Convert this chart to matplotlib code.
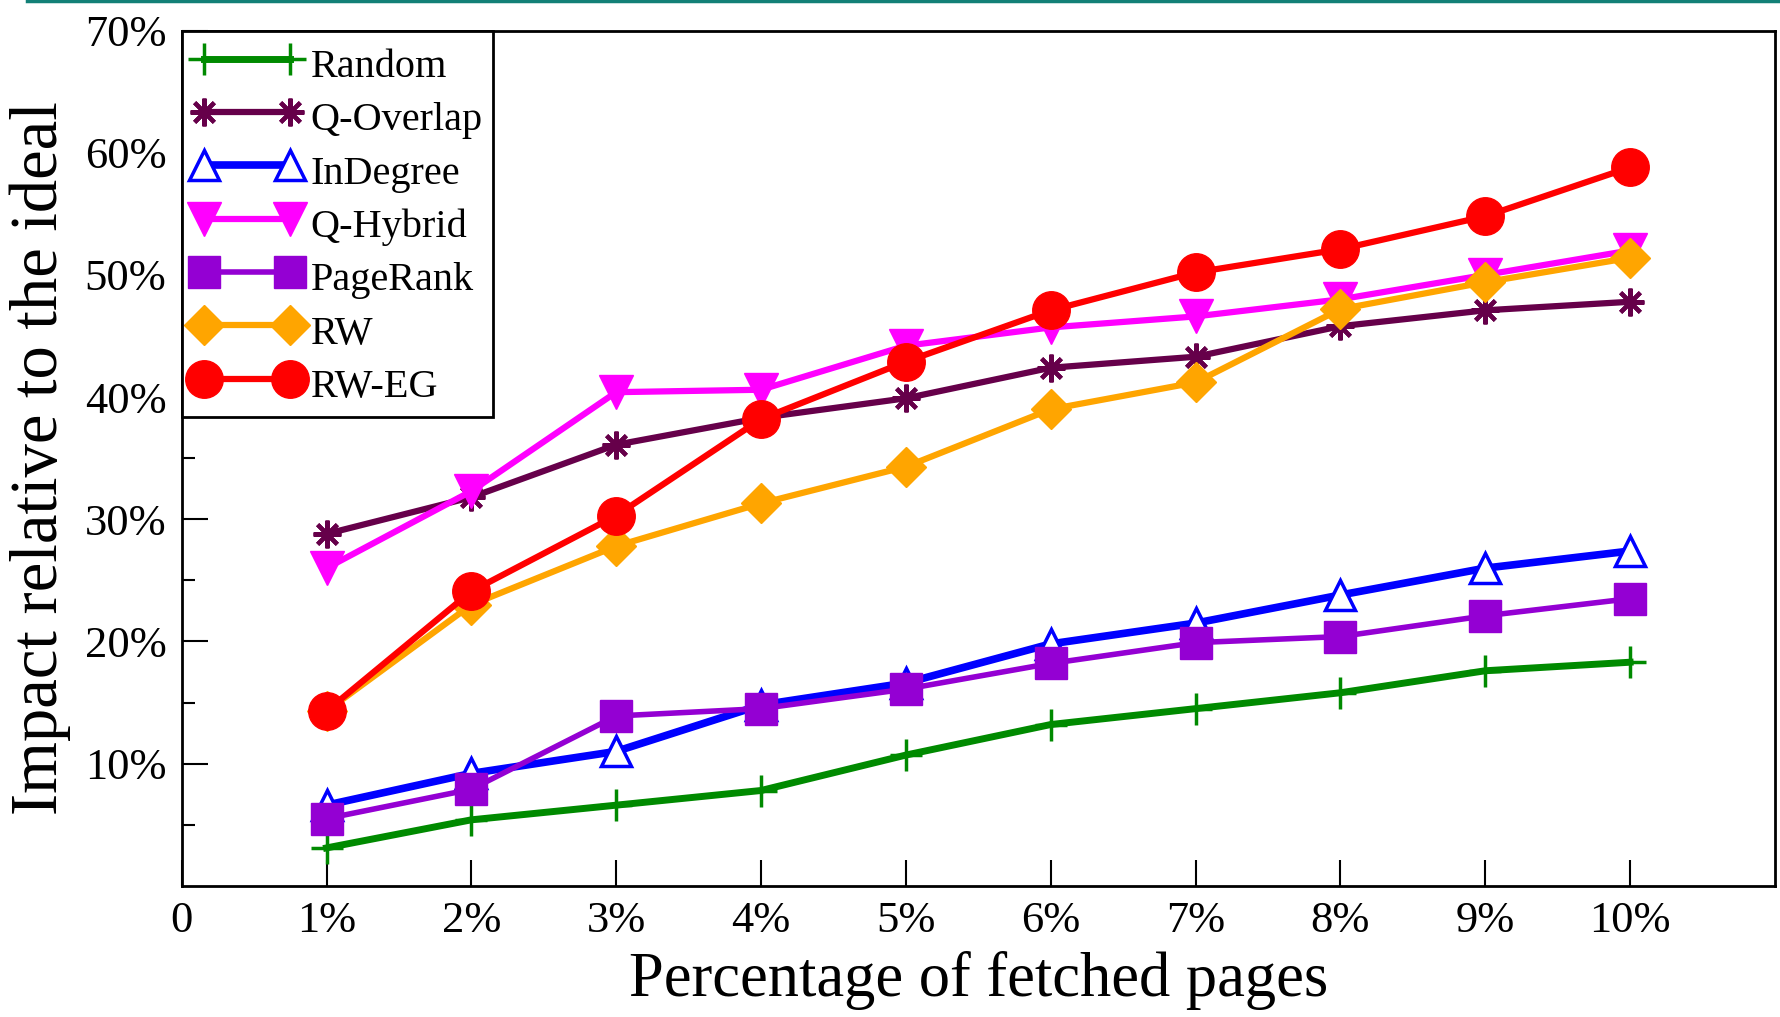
import matplotlib
matplotlib.use('Agg')
import matplotlib.pyplot as plt
from matplotlib.lines import Line2D
from matplotlib.ticker import FixedLocator

plt.rcParams['font.family'] = ['Liberation Serif', 'DejaVu Serif']

x = [1, 2, 3, 4, 5, 6, 7, 8, 9, 10]
xtick_pos = [0, 1, 2, 3, 4, 5, 6, 7, 8, 9, 10]
xtick_labels = ['0', '1%', '2%', '3%', '4%', '5%', '6%', '7%', '8%', '9%', '10%']
ytick_pos = [10, 20, 30, 40, 50, 60, 70]
ytick_labels = ['10%', '20%', '30%', '40%', '50%', '60%', '70%']

random = [3.1, 5.4, 6.6, 7.8, 10.7, 13.2, 14.5, 15.8, 17.6, 18.3]
q_overlap = [28.8, 31.8, 36.1, 38.3, 39.9, 42.4, 43.3, 45.8, 47.1, 47.8]
indegree = [6.6, 9.2, 11.0, 14.8, 16.6, 19.8, 21.5, 23.8, 26.0, 27.4]
q_hybrid = [26.0, 32.3, 40.4, 40.6, 44.2, 45.7, 46.6, 48.0, 50.0, 52.0]
pagerank = [5.5, 7.9, 13.9, 14.5, 16.1, 18.2, 19.9, 20.4, 22.1, 23.5]
rw = [14.3, 23.0, 27.8, 31.3, 34.3, 39.0, 41.2, 47.2, 49.4, 51.4]
rw_eg = [14.3, 24.1, 30.3, 38.2, 42.9, 47.1, 50.2, 52.1, 54.8, 58.8]

fig = plt.figure(figsize=(17.81, 10.17), dpi=100)
ax = fig.add_axes([0.102, 0.129, 0.8946, 0.841])

# teal rule at the very top of the page
fig.add_artist(Line2D([0.015, 1.0], [0.999, 0.999], color='#138077', lw=2.5))

ax.plot(x, random, color='#008a00', lw=5, marker='+', ms=23, mew=2.5, label='Random')
ax.plot(x, q_overlap, color='#66004a', lw=4.5, marker=(8, 2, 0), ms=20, mew=3, label='Q-Overlap')
ax.plot(x, indegree, color='#0000ff', lw=5.5, marker='^', ms=21, mfc='white', mew=2.5, label='InDegree')
ax.plot(x, q_hybrid, color='#ff00ff', lw=4.5, marker='v', ms=24, label='Q-Hybrid')
ax.plot(x, pagerank, color='#9400d3', lw=4, marker='s', ms=23, label='PageRank')
ax.plot(x, rw, color='#ffa500', lw=4.5, marker='D', ms=20, label='RW')
ax.plot(x, rw_eg, color='#ff0000', lw=4.5, marker='o', ms=27, label='RW-EG')

ax.set_xlim(0, 11)
ax.set_ylim(0, 70)
ax.set_xticks(xtick_pos)
ax.set_xticklabels(xtick_labels)
ax.set_yticks(ytick_pos)
ax.set_yticklabels(ytick_labels)
ax.yaxis.set_minor_locator(FixedLocator([5, 15, 25, 35, 45, 55, 65]))

ax.tick_params(axis='both', which='major', direction='in', length=19, width=1.5,
               labelsize=32, top=False, right=False)
ax.tick_params(axis='y', which='major', pad=11)
ax.tick_params(axis='x', which='major', pad=11)
ax.tick_params(axis='y', which='minor', direction='in', length=9.5, width=1.5, right=False)
for s in ax.spines.values():
    s.set_linewidth(2)

ax.set_xlabel('Percentage of fetched pages', fontsize=45, labelpad=7)
ax.set_ylabel('Impact relative to the ideal', fontsize=48, labelpad=10)

leg = ax.legend(loc='upper left', bbox_to_anchor=(0, 1), borderaxespad=0,
                fontsize=29, numpoints=2, handlelength=2.75, handletextpad=0.2,
                handleheight=1.39, borderpad=0.25, labelspacing=0.175,
                fancybox=False, framealpha=1)
leg.get_frame().set_edgecolor('black')
leg.get_frame().set_linewidth(2)

plt.savefig('out.png', dpi=100)
